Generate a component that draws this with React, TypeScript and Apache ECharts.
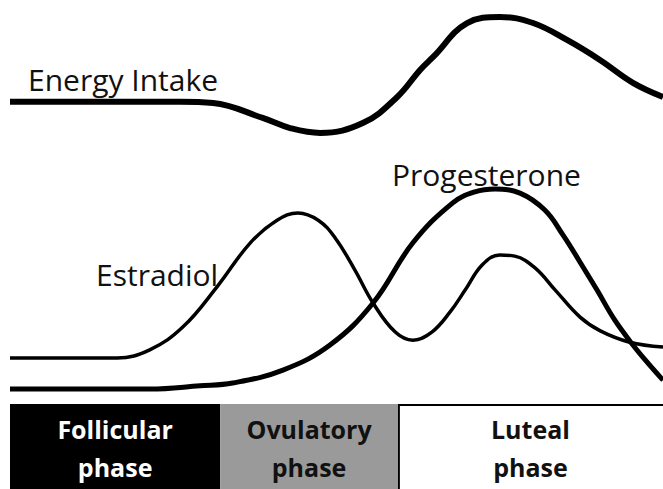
import React, { useEffect, useRef } from "react";
import * as echarts from "echarts";

// x = position in the cycle (0–100 %), y = relative level (0–100)
const energyIntake: [number, number][] = [
  [0, 74.8], [26, 74.8], [31.1, 74.5], [38.7, 70.8], [42.9, 68.3], [47.5, 67.1],
  [54.1, 69.6], [59.3, 76.0], [62.8, 82.7], [64.8, 85.9], [70.0, 94.3], [75.0, 95.8],
  [80.1, 94.3], [85.3, 90.1], [90.4, 85.1], [95.4, 79.5], [100, 76.0],
];

const estradiol: [number, number][] = [
  [0, 11.4], [16.4, 11.4], [21.4, 13.4], [26.5, 19.1], [31.7, 29.0], [36.8, 39.9],
  [40.9, 45.5], [44.1, 47.3], [47.2, 45.5], [49.8, 41.1], [52.8, 33.2], [55.6, 25.0],
  [59.0, 17.8], [61.7, 15.8], [64.6, 17.8], [67.4, 22.8], [69.7, 28.2], [72.3, 34.4],
  [75.0, 36.9], [77.3, 36.6], [80.4, 33.7], [83.5, 28.2], [87.3, 21.5], [90.4, 18.1],
  [94.9, 15.3], [100, 14.1],
];

const progesterone: [number, number][] = [
  [0, 3.7], [21.4, 3.7], [29.1, 4.5], [34.1, 5.2], [41.8, 8.4], [49.0, 14.6],
  [55.6, 25.0], [61.7, 39.9], [67.8, 49.8], [71.2, 52.5], [74.3, 53.2], [78.1, 52.2],
  [81.9, 48.0], [84.7, 41.8], [87.3, 35.1], [89.9, 28.2], [92.6, 20.8], [95.4, 14.6],
  [97.7, 10.1], [100, 5.9],
];

const phaseNames = ["Follicular\nphase", "Ovulatory\nphase", "Luteal\nphase"];
const phaseStart = [0, 32.2, 59.4];
const phaseEnd = [32.2, 59.4, 100];

const seriesLabels = ["Energy Intake", "Progesterone", "Estradiol"];

const phaseFill = ["#000000", "#9a9a9a", "#ffffff"];
const phaseText = ["#ffffff", "#111111", "#111111"];

export default function App() {
  const ref = useRef<HTMLDivElement>(null);

  useEffect(() => {
    document.body.style.margin = "0";
    const chart = echarts.init(ref.current!, undefined, { renderer: "svg" });
    const font = "'Open Sans', sans-serif";

    const phaseData = phaseNames.map((n, i) => [phaseStart[i], phaseEnd[i], i]);

    chart.setOption({
      animation: false,
      backgroundColor: "#ffffff",
      grid: [
        { left: 10, right: 0, top: 0, height: 404 },
        { left: 10, right: 0, top: 404, bottom: 0 },
      ],
      xAxis: [
        { type: "value", gridIndex: 0, min: 0, max: 100, show: false },
        { type: "value", gridIndex: 1, min: 0, max: 100, show: false },
      ],
      yAxis: [
        { type: "value", gridIndex: 0, min: 0, max: 100, show: false },
        { type: "value", gridIndex: 1, min: 0, max: 1, show: false },
      ],
      graphic: [
        {
          type: "text", left: 28, top: 64,
          style: { text: seriesLabels[0], fill: "#111", font: `30px ${font}` },
        },
        {
          type: "text", left: 392, top: 159,
          style: { text: seriesLabels[1], fill: "#111", font: `30px ${font}` },
        },
        {
          type: "text", left: 96, top: 259,
          style: { text: seriesLabels[2], fill: "#111", font: `30px ${font}` },
        },
      ],
      series: [
        {
          name: seriesLabels[0], type: "line", xAxisIndex: 0, yAxisIndex: 0,
          data: energyIntake, smooth: 0.4, symbol: "none",
          lineStyle: { color: "#000", width: 6 },
        },
        {
          name: seriesLabels[1], type: "line", xAxisIndex: 0, yAxisIndex: 0,
          data: progesterone, smooth: 0.4, symbol: "none",
          lineStyle: { color: "#000", width: 5 },
        },
        {
          name: seriesLabels[2], type: "line", xAxisIndex: 0, yAxisIndex: 0,
          data: estradiol, smooth: 0.4, symbol: "none",
          lineStyle: { color: "#000", width: 3.5 },
        },
        {
          type: "custom", xAxisIndex: 1, yAxisIndex: 1,
          data: phaseData,
          renderItem: (params: any, api: any) => {
            const i = api.value(2);
            const p0 = api.coord([api.value(0), 0]);
            const p1 = api.coord([api.value(1), 1]);
            const x = p0[0], y = p1[1], w = p1[0] - p0[0], h = p0[1] - p1[1];
            const children: any[] = [
              { type: "rect", shape: { x, y, width: w, height: h }, style: { fill: phaseFill[i] } },
            ];
            if (i === 2) {
              children.push({
                type: "polyline",
                shape: { points: [[x + 1, y + h], [x + 1, y + 1], [x + w, y + 1]] },
                style: { stroke: "#000", lineWidth: 2, fill: "none" },
              });
            }
            children.push({
              type: "text",
              x: x + w / 2, y: y + h / 2 + 1,
              style: {
                text: phaseNames[i], fill: phaseText[i], font: `bold 25px ${font}`,
                align: "center", verticalAlign: "middle", lineHeight: 38,
              },
            });
            return { type: "group", children };
          },
        },
      ],
    });
    return () => chart.dispose();
  }, []);

  return <div ref={ref} style={{ width: 663, height: 489 }} />;
}
